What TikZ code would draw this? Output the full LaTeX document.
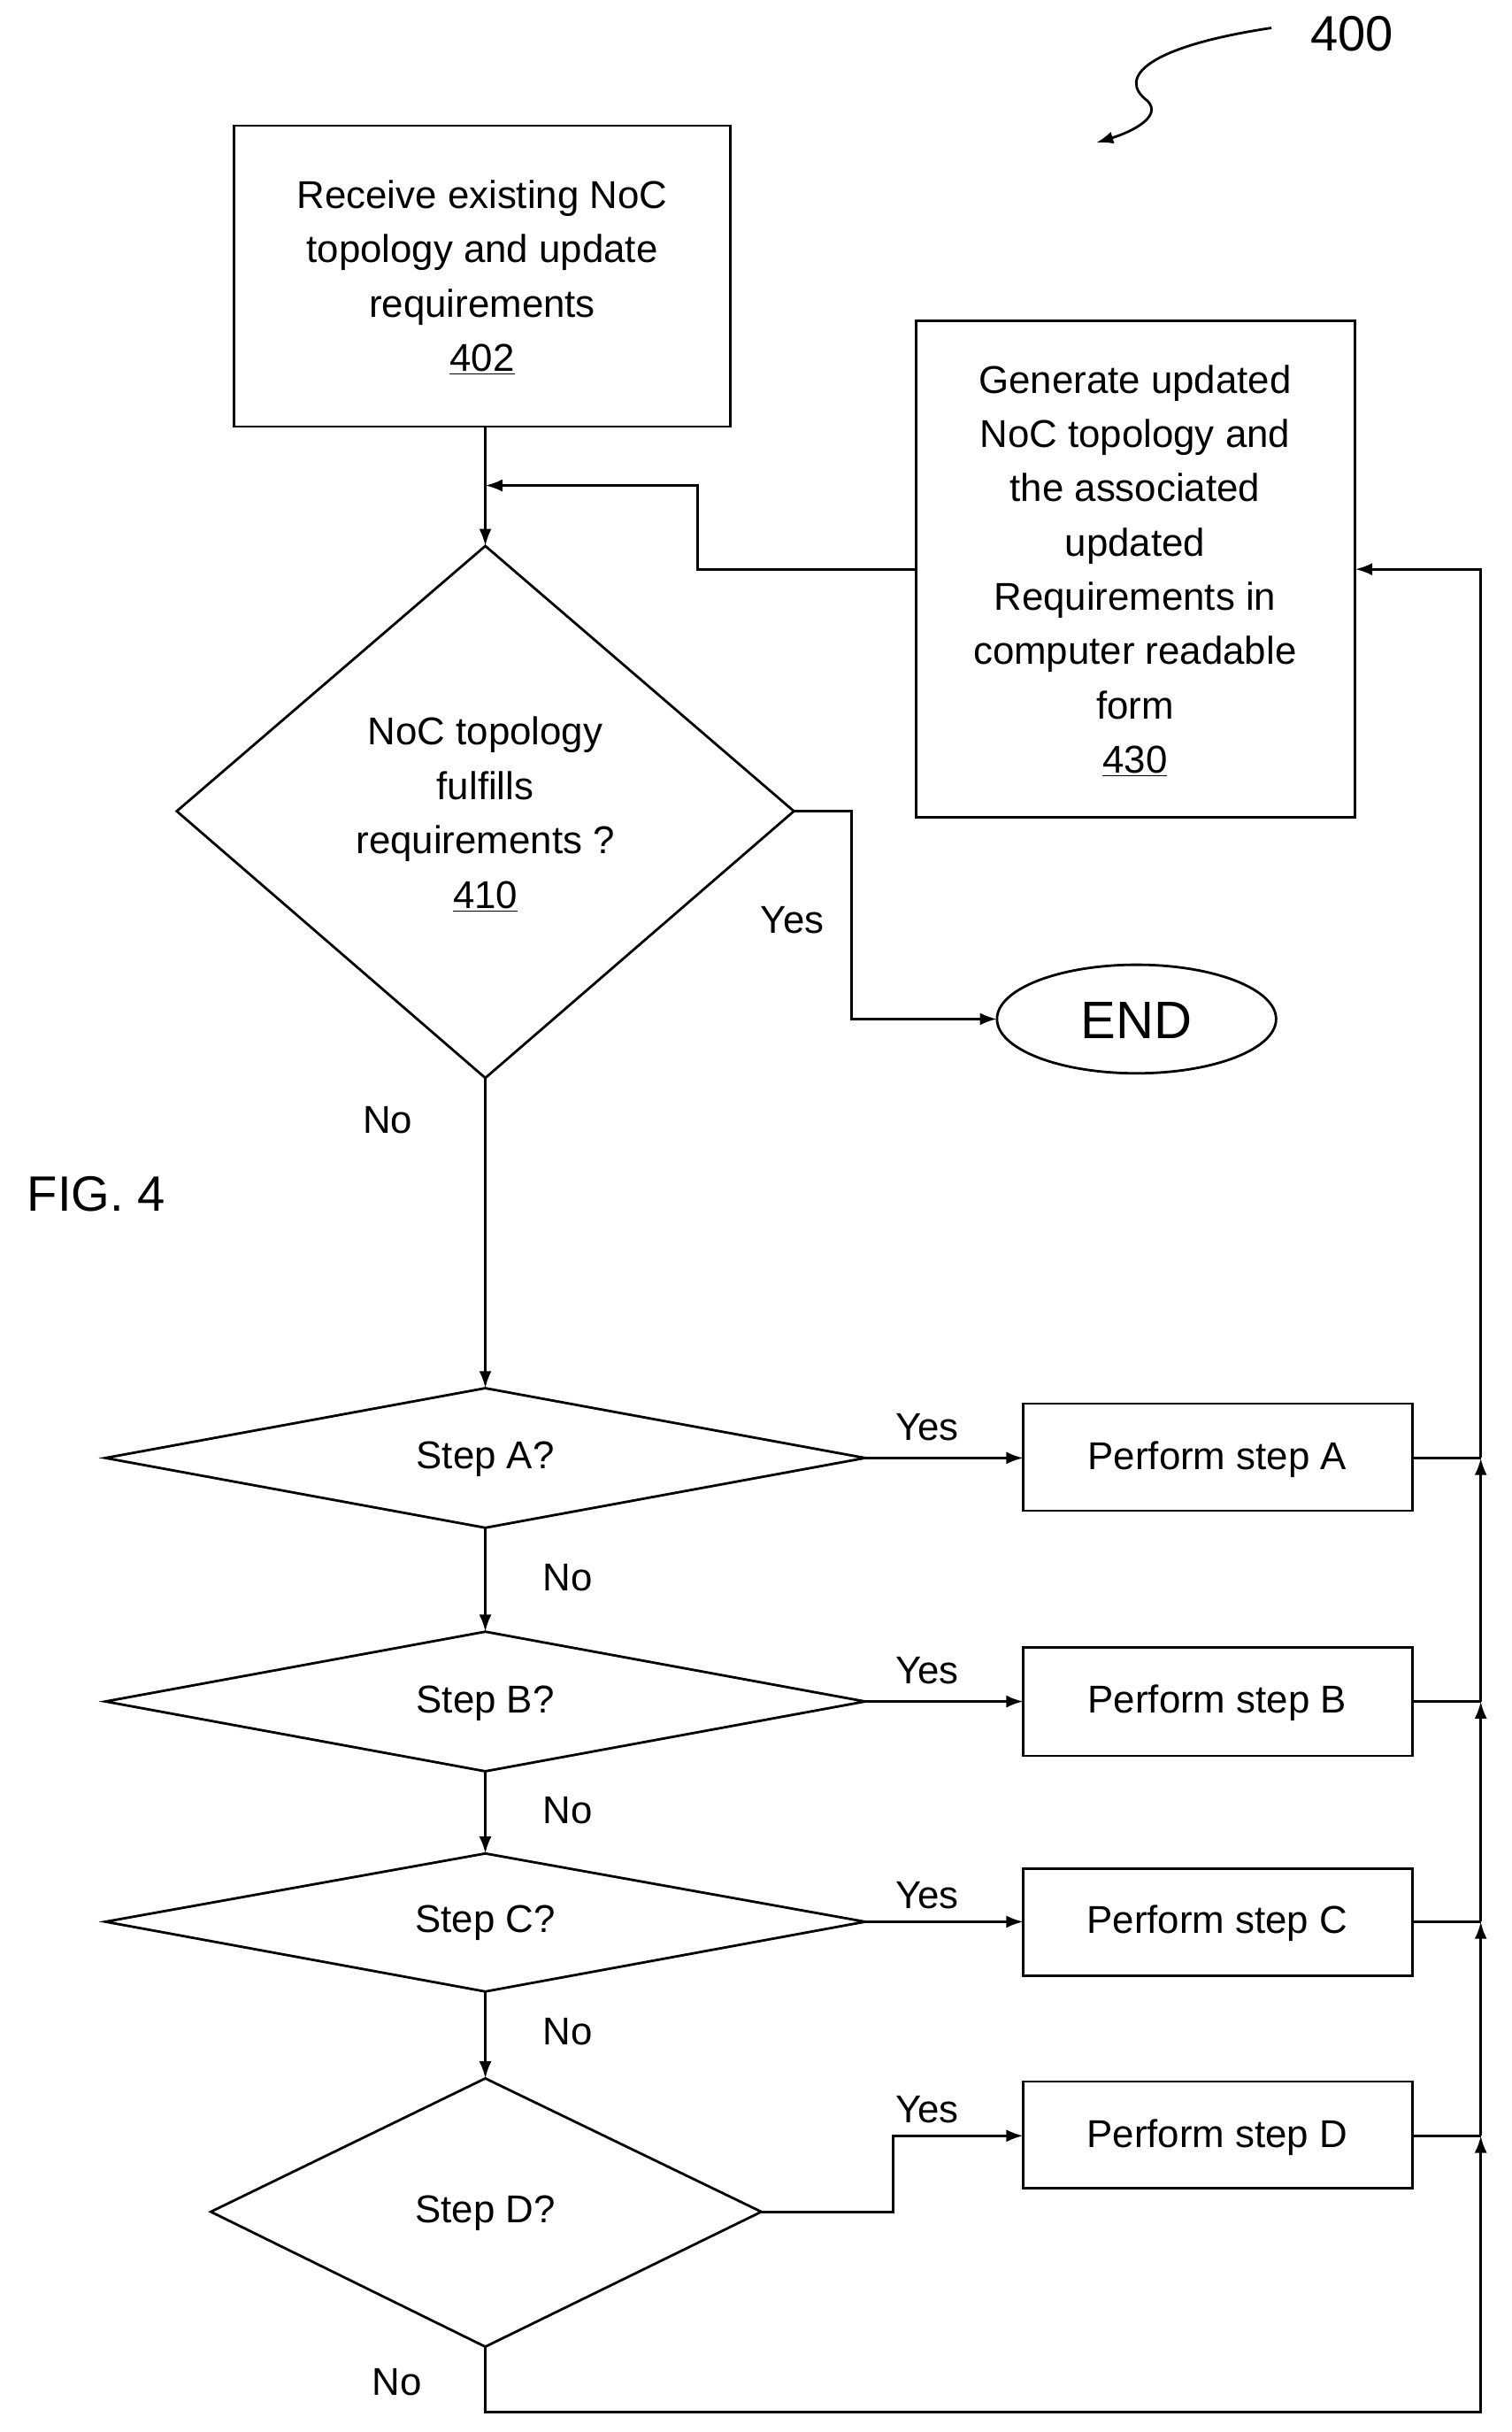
\documentclass[tikz,border=0pt]{standalone}
\usepackage{fontspec}
\setmainfont{Liberation Sans}
\usetikzlibrary{arrows.meta}
\begin{document}
\begin{tikzpicture}[x=1pt,y=-1pt,
  ln/.style={line width=1.6pt},
  arr/.style={ln,-{Latex[length=11pt,width=8pt]}},
  txt/.style={font=\fontsize{25}{35}\selectfont,align=center,inner sep=0pt},
  lab/.style={font=\fontsize{25}{30}\selectfont,inner sep=0pt}]
\useasboundingbox (0,0) rectangle (975,1568);
% boxes
\draw[ln] (151,81) rectangle (471,275);
\node[txt] (t402) at (311,179) {Receive existing NoC\\topology and update\\requirements\\\underline{402}};
\draw[ln] (591,207) rectangle (874,527);
\node[txt] (t430) at (732,368) {Generate updated\\NoC topology and\\the associated\\updated\\Requirements in\\computer readable\\form\\\underline{430}};
% diamond 410
\draw[ln] (313,352) -- (512,523) -- (313,695) -- (114,523) -- cycle;
\node[txt] (t410) at (313,525) {NoC topology\\fulfills\\requirements ?\\\underline{410}};
\draw[ln] (733,657) ellipse (90 and 35);
\node[font=\fontsize{34}{40}\selectfont] (end) at (733,658) {END};
% step diamonds
\draw[ln] (313,895) -- (558,940) -- (313,985) -- (68,940) -- cycle;
\node[txt] (sa) at (313,941) {Step A?};
\draw[ln] (313,1052) -- (558,1097) -- (313,1142) -- (68,1097) -- cycle;
\node[txt] (sb) at (313,1098) {Step B?};
\draw[ln] (313,1195) -- (558,1239) -- (313,1284) -- (68,1239) -- cycle;
\node[txt] (sc) at (313,1240) {Step C?};
\draw[ln] (313,1340) -- (491,1426) -- (313,1513) -- (136,1426) -- cycle;
\node[txt] (sd) at (313,1427) {Step D?};
% perform boxes
\draw[ln] (660,905) rectangle (911,974); \node[txt] (pa) at (785,941) {Perform step A};
\draw[ln] (660,1062) rectangle (911,1132); \node[txt] (pb) at (785,1098) {Perform step B};
\draw[ln] (660,1205) rectangle (911,1274); \node[txt] (pc) at (785,1240) {Perform step C};
\draw[ln] (660,1342) rectangle (911,1411); \node[txt] (pd) at (785,1378) {Perform step D};
% connectors
\draw[arr] (313,275) -- (313,352);
\draw[arr] (591,367) -- (450,367) -- (450,313) -- (313,313);
\draw[arr] (512,523) -- (549,523) -- (549,657) -- (643,657);
\draw[arr] (313,695) -- (313,895);
\draw[arr] (313,985) -- (313,1052);
\draw[arr] (313,1142) -- (313,1195);
\draw[arr] (313,1284) -- (313,1340);
\draw[arr] (558,940) -- (660,940);
\draw[arr] (558,1097) -- (660,1097);
\draw[arr] (558,1239) -- (660,1239);
\draw[arr] (491,1426) -- (576,1426) -- (576,1377) -- (660,1377);
\draw[ln] (911,940) -- (955,940);
\draw[ln] (911,1097) -- (955,1097);
\draw[ln] (911,1239) -- (955,1239);
\draw[ln] (911,1377) -- (955,1377);
\draw[arr] (313,1513) -- (313,1555) -- (955,1555) -- (955,1377);
\draw[arr] (955,1377) -- (955,1239);
\draw[arr] (955,1239) -- (955,1097);
\draw[arr] (955,1097) -- (955,940);
\draw[arr] (955,940) -- (955,367) -- (874,367);
% labels
\node[lab] (y1) at (511,593) {Yes};
\node[lab] (n1) at (250,722) {No};
\node[lab] (ya) at (598,920) {Yes};
\node[lab] (yb) at (598,1077) {Yes};
\node[lab] (yc) at (598,1222) {Yes};
\node[lab] (yd) at (598,1360) {Yes};
\node[lab] (na) at (366,1017) {No};
\node[lab] (nb) at (366,1167) {No};
\node[lab] (nc) at (366,1310) {No};
\node[lab] (nd) at (256,1536) {No};
\node[font=\fontsize{32}{38}\selectfont,inner sep=0pt] (fig) at (62,770) {FIG. 4};
\node[font=\fontsize{32}{38}\selectfont,inner sep=0pt] (n400) at (872,22) {400};
\draw[arr] (820,18) .. controls (740,30) and (720,50) .. (740,65) .. controls (750,75) and (730,85) .. (707,92);
\end{tikzpicture}
\end{document}
